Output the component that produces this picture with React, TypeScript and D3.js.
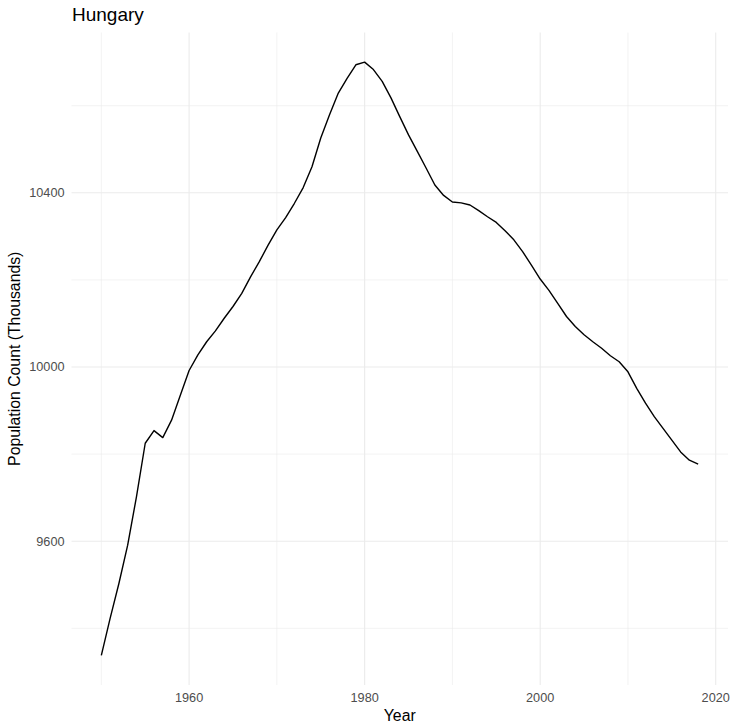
import React from "react";
import * as d3 from "d3";

const years: number[] = d3.range(1950, 2019);
const population: number[] = [
  9338, 9423, 9503, 9591, 9702, 9825, 9854, 9838, 9878, 9935,
  9992, 10028, 10058, 10083, 10112, 10139, 10169, 10207, 10242, 10280,
  10315, 10343, 10376, 10412, 10460, 10526, 10579, 10629, 10663, 10694,
  10700, 10683, 10656, 10618, 10575, 10533, 10495, 10457, 10418, 10394,
  10379, 10377, 10372, 10359, 10345, 10332, 10313, 10292, 10265, 10234,
  10202, 10176, 10146, 10116, 10093, 10074, 10058, 10043, 10026, 10012,
  9989, 9951, 9917, 9886, 9859, 9832, 9805, 9786, 9777,
];
const xTicks: number[] = [1960, 1980, 2000, 2020];
const xMinor: number[] = [1950, 1970, 1990, 2010];
const yTicks: number[] = [9600, 10000, 10400];
const yMinor: number[] = [9400, 9800, 10200, 10600];
const title = "Hungary";
const xTitle = "Year";
const yTitle = "Population Count (Thousands)";

const W = 739;
const H = 728;
const left = 71.5;
const right = 728;
const top = 32.5;
const bottom = 685;
const font = "'Liberation Sans', Arial, Helvetica, sans-serif";

export default function App() {
  const xExt = d3.extent(years) as [number, number];
  const yExt = d3.extent(population) as [number, number];
  const xPad = (xExt[1] - xExt[0]) * 0.05;
  const yPad = (yExt[1] - yExt[0]) * 0.05;
  const x = d3.scaleLinear().domain([xExt[0] - xPad, xExt[1] + xPad]).range([left, right]);
  const y = d3.scaleLinear().domain([yExt[0] - yPad, yExt[1] + yPad]).range([bottom, top]);
  const line = d3
    .line<number>()
    .x((_, i) => x(years[i]))
    .y((d) => y(d));
  const grid = "#ebebeb";
  return (
    <svg width={W} height={H} style={{ position: "absolute", left: 0, top: 0 }} fontFamily={font}>
      <rect width={W} height={H} fill="#ffffff" />
      {yMinor.map((v) => (
        <line key={"ym" + v} x1={left} x2={right} y1={y(v)} y2={y(v)} stroke={grid} strokeWidth={0.6} />
      ))}
      {xMinor.map((v) => (
        <line key={"xm" + v} x1={x(v)} x2={x(v)} y1={top} y2={bottom} stroke={grid} strokeWidth={0.6} />
      ))}
      {yTicks.map((v) => (
        <line key={"y" + v} x1={left} x2={right} y1={y(v)} y2={y(v)} stroke={grid} strokeWidth={1.1} />
      ))}
      {xTicks.map((v) => (
        <line key={"x" + v} x1={x(v)} x2={x(v)} y1={top} y2={bottom} stroke={grid} strokeWidth={1.1} />
      ))}
      <path d={line(population) || ""} fill="none" stroke="#000000" strokeWidth={1.4} strokeLinejoin="round" />
      {yTicks.map((v) => (
        <text key={"yt" + v} x={64.5} y={y(v)} dy="0.35em" textAnchor="end" fontSize={12.7} fill="#4d4d4d">
          {v}
        </text>
      ))}
      {xTicks.map((v) => (
        <text key={"xt" + v} x={x(v)} y={702} textAnchor="middle" fontSize={12.7} fill="#4d4d4d">
          {v}
        </text>
      ))}
      <text x={(left + right) / 2} y={721} textAnchor="middle" fontSize={15.8} fill="#000000">
        {xTitle}
      </text>
      <text
        transform={`translate(20,${(top + bottom) / 2}) rotate(-90)`}
        textAnchor="middle"
        fontSize={15.8}
        fill="#000000"
      >
        {yTitle}
      </text>
      <text x={72} y={21} fontSize={19} fill="#000000">
        {title}
      </text>
    </svg>
  );
}
